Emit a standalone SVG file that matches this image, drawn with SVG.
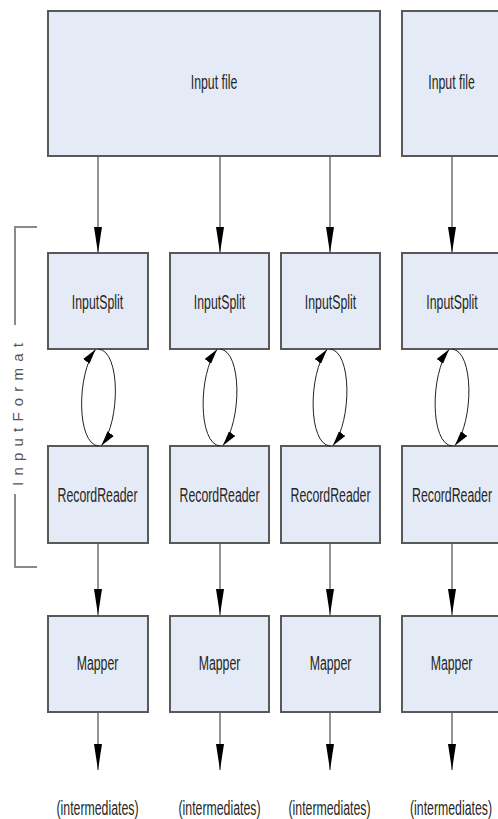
<svg xmlns="http://www.w3.org/2000/svg" width="498" height="819" viewBox="0 0 498 819">
  <style>
    .box { fill: #e5ebf6; stroke: #595959; stroke-width: 2; }
    .lbl { font-family: "Liberation Sans", Arial, sans-serif; font-size: 21px; fill: #262626; text-anchor: middle; }
    .flow { fill: none; stroke: #5a5a5a; stroke-width: 1.3; marker-end: url(#head); }
    .loop { fill: none; stroke: #222; stroke-width: 1; marker-end: url(#smallhead); }
    .bracket { fill: none; stroke: #8a8a8a; stroke-width: 2; }
    .side { font-family: "Liberation Sans", Arial, sans-serif; font-size: 15px; fill: #555; text-anchor: middle; }
  </style>
  <defs>
    <marker id="head" markerUnits="userSpaceOnUse" markerWidth="26" markerHeight="8" refX="26" refY="4" orient="auto">
      <path d="M0,0 L26,4 L0,8 z" fill="#000"/>
    </marker>
    <marker id="smallhead" markerUnits="userSpaceOnUse" markerWidth="15" markerHeight="8" refX="15" refY="4" orient="auto">
      <path d="M0,0 L15,4 L0,8 z" fill="#000"/>
    </marker>
    <!-- two arcs forming the InputSplit / RecordReader exchange loop -->
    <g id="loop">
      <path class="loop" d="M0,97 C-22,95 -22,25 -3,0.5"/>
      <path class="loop" d="M0,0 C22,2 22,72 3,96.5"/>
    </g>
  </defs>

  <rect width="498" height="819" fill="#fff"/>

  <!-- InputFormat bracket -->
  <g id="inputformat">
    <path class="bracket" d="M37,227 H15 V325"/>
    <path class="bracket" d="M15,494 V567 H37"/>
    <text class="side" transform="translate(22.5,414.5) rotate(-90)" x="0" y="0" textLength="143" lengthAdjust="spacing">InputFormat</text>
  </g>

  <!-- input files (labels are horizontally condensed) -->
  <g id="file1">
    <rect class="box" x="48" y="11" width="332" height="145"/>
    <text class="lbl" transform="translate(214,89) scale(0.586,1)">Input file</text>
  </g>
  <g id="file2">
    <rect class="box" x="402" y="11" width="100" height="145"/>
    <text class="lbl" transform="translate(451.5,89) scale(0.586,1)">Input file</text>
  </g>

  <!-- input splits -->
  <g id="split1">
    <rect class="box" x="48" y="253" width="100" height="96"/>
    <text class="lbl" transform="translate(97.5,309) scale(0.586,1)">InputSplit</text>
  </g>
  <g id="split2">
    <rect class="box" x="170" y="253" width="99" height="96"/>
    <text class="lbl" transform="translate(219.5,309) scale(0.586,1)">InputSplit</text>
  </g>
  <g id="split3">
    <rect class="box" x="281" y="253" width="99" height="96"/>
    <text class="lbl" transform="translate(330.5,309) scale(0.586,1)">InputSplit</text>
  </g>
  <g id="split4">
    <rect class="box" x="402" y="253" width="100" height="96"/>
    <text class="lbl" transform="translate(452,309) scale(0.586,1)">InputSplit</text>
  </g>

  <!-- record readers -->
  <g id="reader1">
    <rect class="box" x="48" y="446" width="100" height="97"/>
    <text class="lbl" transform="translate(97.5,502) scale(0.586,1)">RecordReader</text>
  </g>
  <g id="reader2">
    <rect class="box" x="170" y="446" width="99" height="97"/>
    <text class="lbl" transform="translate(219.5,502) scale(0.586,1)">RecordReader</text>
  </g>
  <g id="reader3">
    <rect class="box" x="281" y="446" width="99" height="97"/>
    <text class="lbl" transform="translate(330.5,502) scale(0.586,1)">RecordReader</text>
  </g>
  <g id="reader4">
    <rect class="box" x="402" y="446" width="100" height="97"/>
    <text class="lbl" transform="translate(452,502) scale(0.586,1)">RecordReader</text>
  </g>

  <!-- mappers -->
  <g id="mapper1">
    <rect class="box" x="48" y="616" width="100" height="96"/>
    <text class="lbl" transform="translate(97.5,670) scale(0.586,1)">Mapper</text>
  </g>
  <g id="mapper2">
    <rect class="box" x="170" y="616" width="99" height="96"/>
    <text class="lbl" transform="translate(219.5,670) scale(0.586,1)">Mapper</text>
  </g>
  <g id="mapper3">
    <rect class="box" x="281" y="616" width="99" height="96"/>
    <text class="lbl" transform="translate(330.5,670) scale(0.586,1)">Mapper</text>
  </g>
  <g id="mapper4">
    <rect class="box" x="402" y="616" width="100" height="96"/>
    <text class="lbl" transform="translate(451.5,670) scale(0.586,1)">Mapper</text>
  </g>

  <!-- mapper outputs -->
  <g id="out1"><text class="lbl" transform="translate(97.5,815) scale(0.586,1)">(intermediates)</text></g>
  <g id="out2"><text class="lbl" transform="translate(219.5,815) scale(0.586,1)">(intermediates)</text></g>
  <g id="out3"><text class="lbl" transform="translate(329.5,815) scale(0.586,1)">(intermediates)</text></g>
  <g id="out4"><text class="lbl" transform="translate(451,815) scale(0.586,1)">(intermediates)</text></g>

  <!-- connectors -->
  <g id="connectors">
    <path class="flow" d="M98,157 V253"/>
    <path class="flow" d="M220,157 V253"/>
    <path class="flow" d="M330,157 V253"/>
    <path class="flow" d="M452,157 V253"/>

    <use href="#loop" x="98.5" y="349"/>
    <use href="#loop" x="220" y="349"/>
    <use href="#loop" x="330" y="349"/>
    <use href="#loop" x="452" y="349"/>

    <path class="flow" d="M98,544 V615"/>
    <path class="flow" d="M220,544 V615"/>
    <path class="flow" d="M330,544 V615"/>
    <path class="flow" d="M452,544 V615"/>

    <path class="flow" d="M98,713 V770"/>
    <path class="flow" d="M220,713 V770"/>
    <path class="flow" d="M330,713 V770"/>
    <path class="flow" d="M452,713 V770"/>
  </g>
</svg>
